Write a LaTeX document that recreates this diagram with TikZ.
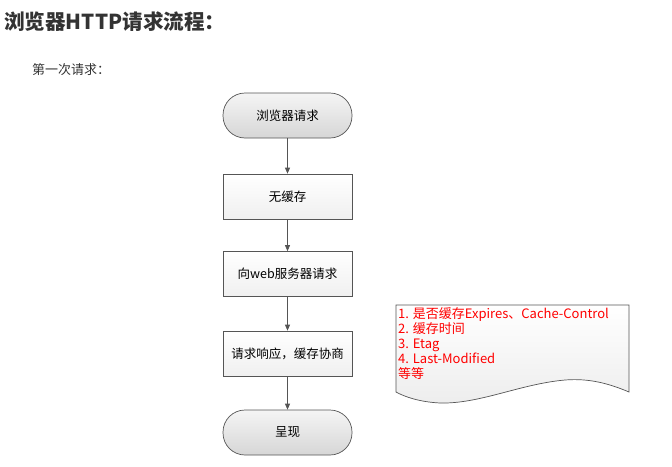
\documentclass[tikz,border=0pt]{standalone}
\usepackage{fontspec}
\setmainfont{Noto Sans CJK SC}
\usetikzlibrary{arrows.meta}
\definecolor{edge}{HTML}{555555}
\definecolor{titlec}{HTML}{333333}
\definecolor{redt}{HTML}{FF0000}
\tikzset{
  term/.style={draw=edge, line width=0.7pt, rounded corners=22pt, minimum width=129pt, minimum height=45pt,
    top color=gray!8, bottom color=gray!32, font=\fontsize{12.5}{14}\selectfont, inner sep=0pt},
  procbox/.style={draw=edge, line width=0.7pt, minimum width=129pt, minimum height=45pt,
    top color=white, bottom color=gray!12, font=\fontsize{12.5}{14}\selectfont, inner sep=0pt},
  flow/.style={draw=edge, line width=0.7pt, -{Triangle[length=6pt,width=5pt]}},
}
\begin{document}
\begin{tikzpicture}[x=1pt,y=-1pt]
\useasboundingbox (0,0) rectangle (672,466);
\node[anchor=west, text=titlec, font=\fontsize{20.6}{24}\selectfont\bfseries, inner sep=0pt] (title) at (4,22) {浏览器HTTP请求流程：};
\node[anchor=west, text=titlec, font=\fontsize{13}{15}\selectfont, inner sep=0pt] (sub) at (32,70) {第一次请求：};
\node[term] (n1) at (287.5,115.5) {浏览器请求};
\node[procbox] (n2) at (287.5,196.5) {无缓存};
\node[procbox] (n3) at (287.5,274) {向web服务器请求};
\node[procbox] (n4) at (287.5,353.5) {请求响应，缓存协商};
\node[term] (n5) at (287.5,432.5) {呈现};
\draw[flow] (n1) -- (n2);
\draw[flow] (n2) -- (n3);
\draw[flow] (n3) -- (n4);
\draw[flow] (n4) -- (n5);
\shade[top color=white, bottom color=gray!14, draw=edge, line width=0.7pt]
  (396,305) -- (629,305) -- (629,392)
  .. controls (610,384) and (590,378) .. (565,380)
  .. controls (520,384) and (480,404) .. (440,403)
  .. controls (420,402) and (405,397) .. (396,392) -- cycle;
\node[anchor=north west, align=left, text=redt, font=\fontsize{13}{15}\selectfont, inner sep=0pt] (note) at (398,307)
  {1. 是否缓存Expires、Cache-Control\\2. 缓存时间\\3. Etag\\4. Last-Modified\\等等};
\end{tikzpicture}
\end{document}
